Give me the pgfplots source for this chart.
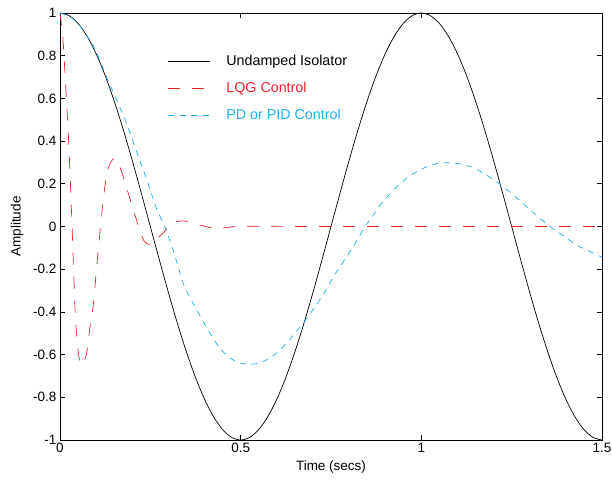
\documentclass[border=0pt]{standalone}
\usepackage{pgfplots}
\pgfplotsset{compat=1.18}
\usepackage{fontspec}
\setmainfont{Liberation Sans}
\definecolor{lqgred}{RGB}{235,35,45}
\definecolor{pdblue}{RGB}{30,175,235}
\begin{document}
\begin{tikzpicture}
\begin{axis}[
  scale only axis,
  width=542pt, height=427pt,
  xmin=0, xmax=1.5, ymin=-1, ymax=1,
  xtick={0,0.5,1,1.5},
  xticklabels={0,0.5,1,1.5},
  ytick={-1,-0.8,-0.6,-0.4,-0.2,0,0.2,0.4,0.6,0.8,1},
  yticklabels={-1,-0.8,-0.6,-0.4,-0.2,0,0.2,0.4,0.6,0.8,1},
  tick align=inside,
  major tick length=5pt,
  tick style={black, line width=0.6pt},
  axis line style={black, line width=0.8pt},
  /pgf/number format/assume math mode=true,
  tick label style={font=\fontsize{13.5}{16}\selectfont},
  label style={font=\fontsize{13.5}{16}\selectfont},
  xlabel={Time (secs)},
  ylabel={Amplitude},
  xlabel style={at={(axis description cs:0.5,-0.063)}, anchor=center},
  ylabel style={at={(axis description cs:-0.079,0.5)}, anchor=center},
  legend style={draw=none, fill=none, at={(axis cs:0.29,0.82)}, anchor=north west,
    font=\fontsize{14.3}{17}\selectfont, row sep=11pt},
  legend cell align=left,
  legend image code/.code={\draw[#1] (0pt,0pt) -- (42pt,0pt);\path[draw=none] (42pt,0pt) -- (56pt,0pt);},
]
\coordinate (SW) at (rel axis cs:0,0);
\coordinate (NE) at (rel axis cs:1,1);
\addplot[black, line width=0.7pt, smooth] coordinates {
(0,1) (0.025,0.9877) (0.05,0.9511) (0.075,0.8910) (0.1,0.8090) (0.125,0.7071)
(0.15,0.5878) (0.175,0.4540) (0.2,0.3090) (0.225,0.1564) (0.25,0)
(0.275,-0.1564) (0.3,-0.3090) (0.325,-0.4540) (0.35,-0.5878) (0.375,-0.7071)
(0.4,-0.8090) (0.425,-0.8910) (0.45,-0.9511) (0.475,-0.9877) (0.5,-1)
(0.525,-0.9877) (0.55,-0.9511) (0.575,-0.8910) (0.6,-0.8090) (0.625,-0.7071)
(0.65,-0.5878) (0.675,-0.4540) (0.7,-0.3090) (0.725,-0.1564) (0.75,0)
(0.775,0.1564) (0.8,0.3090) (0.825,0.4540) (0.85,0.5878) (0.875,0.7071)
(0.9,0.8090) (0.925,0.8910) (0.95,0.9511) (0.975,0.9877) (1.0,1)
(1.025,0.9877) (1.05,0.9511) (1.075,0.8910) (1.1,0.8090) (1.125,0.7071)
(1.15,0.5878) (1.175,0.4540) (1.2,0.3090) (1.225,0.1564) (1.25,0)
(1.275,-0.1564) (1.3,-0.3090) (1.325,-0.4540) (1.35,-0.5878) (1.375,-0.7071)
(1.4,-0.8090) (1.425,-0.8910) (1.45,-0.9511) (1.475,-0.9877) (1.5,-1)
};
\addlegendentry{Undamped Isolator}
\addplot[lqgred, line width=0.7pt, dash pattern=on 12pt off 12pt, smooth] coordinates {
(0,1) (0.008,0.88) (0.016,0.65) (0.024,0.40) (0.033,0.02) (0.042,-0.40)
(0.05,-0.58) (0.057,-0.645) (0.065,-0.64) (0.074,-0.59) (0.083,-0.47)
(0.092,-0.37) (0.101,-0.2) (0.111,-0.02) (0.12,0.13) (0.129,0.24)
(0.14,0.30) (0.152,0.32) (0.163,0.29) (0.175,0.233) (0.19,0.15)
(0.2,0.09) (0.212,0.03) (0.221,-0.02) (0.231,-0.063) (0.24,-0.08)
(0.249,-0.085) (0.26,-0.075) (0.273,-0.05) (0.286,-0.03) (0.3,0.0)
(0.314,0.018) (0.33,0.025) (0.346,0.026) (0.367,0.017) (0.387,0.007)
(0.41,-0.003) (0.435,-0.008) (0.46,-0.005) (0.489,0.0) (0.55,0.001)
(0.7,0) (0.9,0) (1.1,0) (1.3,0) (1.5,0)
};
\addlegendentry{\textcolor{lqgred}{LQG Control}}
\addplot[pdblue, line width=0.7pt, dash pattern=on 6pt off 5.5pt, smooth] coordinates {
(0,1) (0.03,0.98) (0.06,0.93) (0.083,0.87) (0.1,0.82) (0.129,0.70)
(0.16,0.58) (0.185,0.48) (0.21,0.36) (0.24,0.22) (0.268,0.08) (0.29,0.0)
(0.315,-0.12) (0.341,-0.266) (0.365,-0.35) (0.388,-0.42) (0.415,-0.50)
(0.443,-0.571) (0.47,-0.615) (0.5,-0.64) (0.53,-0.645) (0.56,-0.635)
(0.59,-0.605) (0.618,-0.563) (0.645,-0.51) (0.673,-0.453) (0.7,-0.39)
(0.73,-0.315) (0.757,-0.235) (0.79,-0.15) (0.82,-0.07) (0.844,0.0)
(0.87,0.06) (0.89,0.109) (0.923,0.171) (0.955,0.22) (0.987,0.257)
(1.02,0.283) (1.05,0.297) (1.075,0.299) (1.1,0.295) (1.14,0.278)
(1.172,0.249) (1.2,0.22) (1.227,0.186) (1.26,0.14) (1.29,0.095)
(1.32,0.05) (1.356,0.0) (1.39,-0.04) (1.43,-0.087) (1.47,-0.12) (1.5,-0.144)
};
\addlegendentry{\textcolor{pdblue}{PD or PID Control}}
\end{axis}
\pgfresetboundingbox
\path ([shift={(-60pt,-41pt)}]SW) rectangle ([shift={(10pt,13pt)}]NE);
\end{tikzpicture}
\end{document}
